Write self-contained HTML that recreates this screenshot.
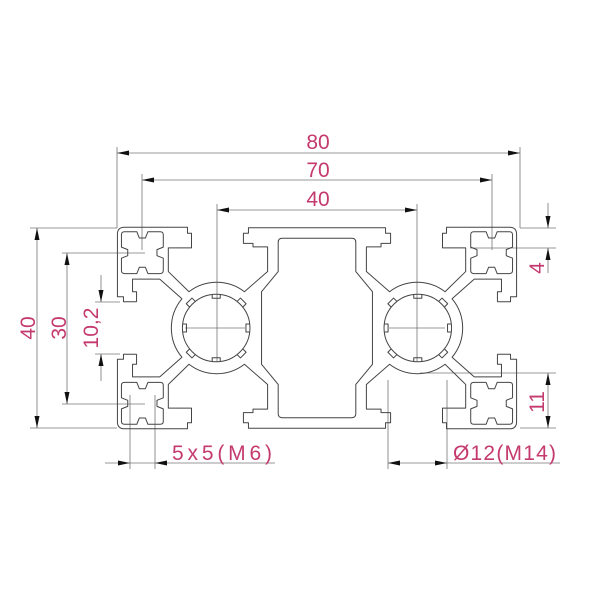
<!DOCTYPE html>
<html><head><meta charset="utf-8"><style>
html,body{margin:0;padding:0;background:#fff;}
svg{display:block;}
.p{fill:none;stroke:#444;stroke-width:1;vector-effect:non-scaling-stroke;stroke-linejoin:round;}
.d{stroke:#777;stroke-width:0.8;fill:none;}
.t{fill:#c43a6e;font-family:"Liberation Sans",sans-serif;font-size:21px;}
.a{fill:#111;}
</style></head><body>
<svg width="600" height="600" viewBox="0 0 600 600" xmlns="http://www.w3.org/2000/svg">
<defs>
<g id="q">
<path class="p" d="M -35.8,-5.2 L -38.4,-5.2 L -38.4,-6.2 L -39.6,-6.2 L -39.6,-18.6 Q -39.6,-20 -38.2,-20 L -25.7,-20 L -25.7,-18.8 L -24.9,-18.8 L -24.9,-15.9 L -29.5,-15.9 L -29.5,-11.2 L -25.4,-7.2 A 9 9 0 0 1 -14.4,-7.2 L -9.8,-11.2 L -9.8,-16.1 L -12.7,-16.1 L -12.7,-16.8 L -14.6,-16.8 L -14.6,-18.8 L -13.6,-18.8 L -13.6,-19.9 L 0,-19.9"/>
<path class="p" d="M -35.8,-5.2 L -35.8,-7.2 L -36.6,-7.2 L -36.6,-9.7 L -31.2,-9.7 L -26.8,-5.8 A 9 9 0 0 0 -28.9,0"/>
<path class="p" d="M -11,0 L -11,-7.2 L -7.7,-11.2 L -7.7,-17 Q -7.7,-17.8 -6.9,-17.8 L 0,-17.8"/>
<path class="p" transform="translate(-34.65,-14.95)" d="M -3.55,-4.15 L -1.1,-4.15 L -0.6,-2.9 L 0.6,-2.9 L 1.1,-4.15 L 3.55,-4.15 Q 4.15,-4.15 4.15,-3.55 L 4.15,-1.1 L 2.9,-0.6 L 2.9,0.6 L 4.15,1.1 L 4.15,3.55 Q 4.15,4.15 3.55,4.15 L 1.1,4.15 L 0.6,2.9 L -0.6,2.9 L -1.1,4.15 L -3.55,4.15 Q -4.15,4.15 -4.15,3.55 L -4.15,1.1 L -2.9,0.6 L -2.9,-0.6 L -4.15,-1.1 L -4.15,-3.55 Q -4.15,-4.15 -3.55,-4.15 Z"/>
</g>
<g id="b">
<circle class="p" cx="0" cy="0" r="6.7"/>
<path class="p" d="M -0.8,-6.65 L -0.8,-5.9 L 0.8,-5.9 L 0.8,-6.65"/>
<path class="p" transform="rotate(90)" d="M -0.8,-6.65 L -0.8,-5.9 L 0.8,-5.9 L 0.8,-6.65"/>
<path class="p" transform="rotate(180)" d="M -0.8,-6.65 L -0.8,-5.9 L 0.8,-5.9 L 0.8,-6.65"/>
<path class="p" transform="rotate(270)" d="M -0.8,-6.65 L -0.8,-5.9 L 0.8,-5.9 L 0.8,-6.65"/>
<path class="p" transform="rotate(45)" d="M -0.8,-6.65 L -0.8,-7.6 L 0.8,-7.6 L 0.8,-6.65"/>
<path class="p" transform="rotate(135)" d="M -0.8,-6.65 L -0.8,-7.6 L 0.8,-7.6 L 0.8,-6.65"/>
<path class="p" transform="rotate(225)" d="M -0.8,-6.65 L -0.8,-7.6 L 0.8,-7.6 L 0.8,-6.65"/>
<path class="p" transform="rotate(315)" d="M -0.8,-6.65 L -0.8,-7.6 L 0.8,-7.6 L 0.8,-6.65"/>
</g>
</defs>

<g class="d">
<line x1="117" y1="147" x2="117" y2="228"/><line x1="520" y1="147" x2="520" y2="228"/>
<line x1="117" y1="153" x2="520" y2="153"/>
<line x1="142" y1="174" x2="142" y2="250"/><line x1="492" y1="174" x2="492" y2="250"/>
<line x1="142" y1="180" x2="492" y2="180"/>
<line x1="217" y1="204" x2="217" y2="362"/><line x1="417" y1="204" x2="417" y2="362"/>
<line x1="217" y1="210" x2="417" y2="210"/>
<line x1="185" y1="328" x2="245" y2="328"/><line x1="389" y1="328" x2="445" y2="328"/>
<line x1="30" y1="228" x2="117" y2="228"/><line x1="30" y1="428" x2="117" y2="428"/>
<line x1="37" y1="228" x2="37" y2="428"/>
<line x1="62" y1="253" x2="145" y2="253"/><line x1="62" y1="404" x2="145" y2="404"/>
<line x1="67" y1="253" x2="67" y2="404"/>
<line x1="95" y1="302" x2="120" y2="302"/><line x1="95" y1="354" x2="120" y2="354"/>
<line x1="101" y1="275" x2="101" y2="302"/><line x1="101" y1="354" x2="101" y2="381"/>
<line x1="520" y1="228" x2="556" y2="228"/><line x1="470" y1="248" x2="556" y2="248"/>
<line x1="548" y1="203" x2="548" y2="228"/><line x1="548" y1="248" x2="548" y2="273"/>
<line x1="420" y1="373" x2="556" y2="373"/><line x1="520" y1="428" x2="556" y2="428"/>
<line x1="548" y1="373" x2="548" y2="428"/>
<line x1="130" y1="395" x2="130" y2="469"/><line x1="155" y1="395" x2="155" y2="469"/>
<line x1="105" y1="463" x2="275" y2="463"/>
<line x1="388" y1="380" x2="388" y2="469"/><line x1="447" y1="380" x2="447" y2="469"/>
<line x1="388" y1="463" x2="560" y2="463"/>
</g>

<g class="a">
<polygon points="117,153 129,150.5 129,155.5"/><polygon points="520,153 508,150.5 508,155.5"/>
<polygon points="142,180 154,177.5 154,182.5"/><polygon points="492,180 480,177.5 480,182.5"/>
<polygon points="217,210 229,207.5 229,212.5"/><polygon points="417,210 405,207.5 405,212.5"/>
<polygon points="37,228 34.5,240 39.5,240"/><polygon points="37,428 34.5,416 39.5,416"/>
<polygon points="67,253 64.5,265 69.5,265"/><polygon points="67,404 64.5,392 69.5,392"/>
<polygon points="101,302 98.5,290 103.5,290"/><polygon points="101,354 98.5,366 103.5,366"/>
<polygon points="548,228 545.5,216 550.5,216"/><polygon points="548,248 545.5,260 550.5,260"/>
<polygon points="548,373 545.5,385 550.5,385"/><polygon points="548,428 545.5,416 550.5,416"/>
<polygon points="130,463 118,460.5 118,465.5"/><polygon points="155,463 167,460.5 167,465.5"/>
<polygon points="388,463 400,460.5 400,465.5"/><polygon points="447,463 435,460.5 435,465.5"/>
</g>

<g transform="translate(317,328) scale(5.04)">
<use href="#q"/>
<use href="#q" transform="scale(-1,1)"/>
<use href="#q" transform="scale(1,-1)"/>
<use href="#q" transform="scale(-1,-1)"/>
<use href="#b" transform="translate(-20,0)"/>
<use href="#b" transform="translate(20,0)"/>
</g>

<text class="t" x="318" y="149" text-anchor="middle">80</text>
<text class="t" x="318" y="177" text-anchor="middle">70</text>
<text class="t" x="318" y="206" text-anchor="middle">40</text>
<text class="t" transform="translate(35,328) rotate(-90)" text-anchor="middle">40</text>
<text class="t" transform="translate(66,328) rotate(-90)" text-anchor="middle">30</text>
<text class="t" transform="translate(98,328) rotate(-90)" text-anchor="middle">10,2</text>
<text class="t" transform="translate(544,268) rotate(-90)" text-anchor="middle">4</text>
<text class="t" transform="translate(544,402) rotate(-90)" text-anchor="middle">11</text>
<text class="t" x="172" y="460" textLength="100" lengthAdjust="spacing">5x5(M6)</text>
<text class="t" x="453" y="460" textLength="103" lengthAdjust="spacing">Ø12(M14)</text>
</svg>
</body></html>
